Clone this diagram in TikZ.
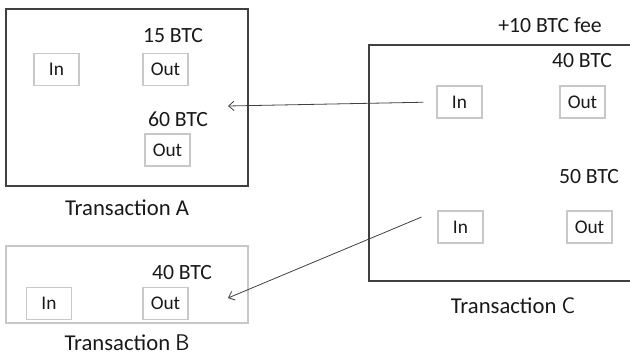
\documentclass[tikz,border=0pt]{standalone}
\usepackage{fontspec}
\setmainfont{Carlito}
\usepackage{tikz}
\usetikzlibrary{arrows.meta,positioning}
\definecolor{framegray}{RGB}{64,64,64}
\definecolor{pingray}{RGB}{200,200,200}
\definecolor{inkgray}{RGB}{25,25,25}

\begin{document}
\begin{tikzpicture}[x=0.75pt, y=-0.75pt,
  txbox/.style={draw=framegray, line width=0.8pt, inner sep=0pt},
  iobox/.style={draw=pingray, line width=0.9pt, minimum width=33.75pt, minimum height=24pt,
                inner sep=0pt, text=inkgray, font=\fontsize{14.5}{17}\selectfont},
  amount/.style={inner sep=1pt, text=inkgray, font=\fontsize{16.3}{19}\selectfont},
  caption/.style={inner sep=1pt, text=inkgray, font=\fontsize{17}{20}\selectfont},
  arr/.style={-{Straight Barb[length=4pt,width=7pt]}, line width=0.6pt, draw=framegray},
  node distance=9pt
]
\useasboundingbox (0,0) rectangle (630,359);

% transaction frames
\node[txbox, minimum width=181.5pt, minimum height=132.75pt] (txA) at (127,97.5) {};
\node[txbox, draw=pingray, minimum width=181.5pt, minimum height=57.75pt] (txB) at (127,284.5) {};
\node[txbox, minimum width=207pt, minimum height=177pt] (txC) at (507,163) {};

\node[caption, below=of txA] (capA) {Transaction A};
\node[caption, below=7pt of txB] (capB) {Transaction \textsf{B}};
\node[caption, below=11pt of txC, xshift=4.5pt] (capC) {Transaction \textsf{C}};

% inputs and outputs
\node[iobox] (inA)   at (56.5,69.5)  {In};
\node[iobox] (outA1) at (165.5,69.5) {Out};
\node[iobox] (outA2) at (167.5,150)  {Out};
\node[iobox] (inB)   at (49,303.5)   {In};
\node[iobox] (outB)  at (165.5,303.5) {Out};
\node[iobox] (inC1)  at (459.5,102)  {In};
\node[iobox] (outC1) at (582.5,102)  {Out};
\node[iobox] (inC2)  at (460.5,227)  {In};
\node[iobox] (outC2) at (589.5,227)  {Out};

% amounts
\node[amount] (amtA1) at (173,36)  {15 BTC};
\node[amount] (amtA2) at (178,119) {60 BTC};
\node[amount] (amtB)  at (182,273) {40 BTC};
\node[amount] (amtC1) at (582,61)  {40 BTC};
\node[amount] (amtC2) at (589,177) {50 BTC};
\node[amount] (fee)   at (550,25)  {+10 BTC fee};

% spending
\coordinate (recvA) at (228,106);
\coordinate (recvB) at (228,298);
\draw[arr, shorten <=9.75pt] (inC1.west) -- (recvA);
\draw[arr, shorten <=13pt] (inC2.north west) -- (recvB);
\end{tikzpicture}
\end{document}
